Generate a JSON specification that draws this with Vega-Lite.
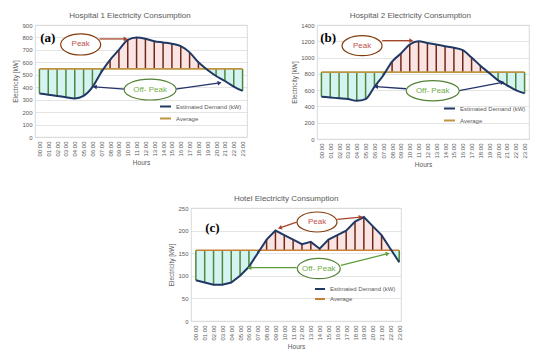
{
  "$schema": "https://vega.github.io/schema/vega-lite/v6.json",
  "background": "white",
  "padding": {"left": 12, "top": 11, "right": 0, "bottom": 0},
  "config": {
    "font": "Liberation Sans",
    "view": {"stroke": "#cfcfcf", "strokeWidth": 0.8},
    "axis": {"labelColor": "#595959", "titleColor": "#595959", "labelFontSize": 6, "titleFontSize": 6.5, "titleFontWeight": "normal", "ticks": false, "domain": false, "gridColor": "#d9d9d9", "gridWidth": 0.7, "labelPadding": 3, "titlePadding": 3, "labelOverlap": false, "labelFlush": false},
    "axisX": {"grid": false, "labelAngle": -90, "labelPadding": 4},
    "title": {"fontSize": 8, "fontWeight": "normal", "color": "#595959"},
    "legend": {"labelFontSize": 6, "labelColor": "#595959", "symbolType": "stroke", "symbolStrokeWidth": 2, "symbolSize": 120, "rowPadding": 1, "labelLimit": 200}
  },
  "datasets": {
    "h1": [
      {"h": 0, "kw": 350}, {"h": 1, "kw": 340}, {"h": 2, "kw": 330}, {"h": 3, "kw": 320}, {"h": 4, "kw": 310}, {"h": 5, "kw": 330},
      {"h": 6, "kw": 400}, {"h": 7, "kw": 520}, {"h": 8, "kw": 620}, {"h": 9, "kw": 700}, {"h": 10, "kw": 780}, {"h": 11, "kw": 800},
      {"h": 12, "kw": 790}, {"h": 13, "kw": 770}, {"h": 14, "kw": 760}, {"h": 15, "kw": 750}, {"h": 16, "kw": 730}, {"h": 17, "kw": 680},
      {"h": 18, "kw": 600}, {"h": 19, "kw": 540}, {"h": 20, "kw": 490}, {"h": 21, "kw": 450}, {"h": 22, "kw": 405}, {"h": 23, "kw": 370}
    ],
    "h2": [
      {"h": 0, "kw": 520}, {"h": 1, "kw": 510}, {"h": 2, "kw": 500}, {"h": 3, "kw": 490}, {"h": 4, "kw": 470}, {"h": 5, "kw": 490},
      {"h": 6, "kw": 640}, {"h": 7, "kw": 780}, {"h": 8, "kw": 950}, {"h": 9, "kw": 1050}, {"h": 10, "kw": 1160}, {"h": 11, "kw": 1200},
      {"h": 12, "kw": 1180}, {"h": 13, "kw": 1160}, {"h": 14, "kw": 1140}, {"h": 15, "kw": 1120}, {"h": 16, "kw": 1090}, {"h": 17, "kw": 1000},
      {"h": 18, "kw": 900}, {"h": 19, "kw": 810}, {"h": 20, "kw": 720}, {"h": 21, "kw": 660}, {"h": 22, "kw": 600}, {"h": 23, "kw": 560}
    ],
    "hotel": [
      {"h": 0, "kw": 90}, {"h": 1, "kw": 85}, {"h": 2, "kw": 80}, {"h": 3, "kw": 80}, {"h": 4, "kw": 85}, {"h": 5, "kw": 100},
      {"h": 6, "kw": 120}, {"h": 7, "kw": 150}, {"h": 8, "kw": 180}, {"h": 9, "kw": 200}, {"h": 10, "kw": 190}, {"h": 11, "kw": 180},
      {"h": 12, "kw": 170}, {"h": 13, "kw": 175}, {"h": 14, "kw": 160}, {"h": 15, "kw": 180}, {"h": 16, "kw": 190}, {"h": 17, "kw": 200},
      {"h": 18, "kw": 220}, {"h": 19, "kw": 230}, {"h": 20, "kw": 210}, {"h": 21, "kw": 190}, {"h": 22, "kw": 160}, {"h": 23, "kw": 130}
    ]
  },
  "resolve": {"scale": {"color": "independent"}, "legend": {"color": "independent"}},
  "spacing": 26,
  "vconcat": [
    {
      "spacing": 43,
      "resolve": {"scale": {"color": "independent"}, "legend": {"color": "independent"}},
      "hconcat": [
        {
          "width": 212, "height": 112,
          "title": {"text": "Hospital 1 Electricity Consumption", "frame": "bounds", "offset": 2},
          "data": {"name": "h1"},
          "transform": [{"joinaggregate": [{"op": "mean", "field": "kw", "as": "avg"}]}],
          "encoding": {
            "x": {"field": "h", "type": "quantitative", "title": "Hours", "scale": {"domain": [-0.5, 23.5], "nice": false, "zero": false},
                  "axis": {"values": [0,1,2,3,4,5,6,7,8,9,10,11,12,13,14,15,16,17,18,19,20,21,22,23], "labelExpr": "(datum.value < 10 ? '0' : '') + datum.value + ':00'"}},
            "y": {"field": "kw", "type": "quantitative", "title": "Electricity [kW]", "scale": {"domain": [0, 900], "nice": false},
                  "axis": {"values": [0,100,200,300,400,500,600,700,800,900], "format": "d"}}
          },
          "layer": [
            {"mark": {"type": "area", "interpolate": "monotone", "fill": {"gradient": "linear", "x1": 0, "y1": 0, "x2": 0, "y2": 1, "stops": [{"offset": 0, "color": "#fbe4e4"}, {"offset": 0.516, "color": "#fbe4e4"}, {"offset": 0.516, "color": "#d5f3f0"}, {"offset": 1, "color": "#d5f3f0"}]}},
             "encoding": {"y2": {"field": "avg"}}},
            {"mark": {"type": "rule", "strokeWidth": 1.5},
             "encoding": {"y2": {"field": "avg"}, "color": {"condition": {"test": "datum.kw > datum.avg", "value": "#6e2a14"}, "value": "#4b8a3c"}}},
            {"mark": {"type": "line", "strokeWidth": 1.6},
             "encoding": {"y": {"field": "avg", "type": "quantitative", "title": "Electricity [kW]"}, "color": {"datum": "Average"}}},
            {"mark": {"type": "line", "strokeWidth": 2, "interpolate": "monotone"},
             "encoding": {"color": {"datum": "Estimated Demand (kW)", "scale": {"domain": ["Estimated Demand (kW)", "Average"], "range": ["#203864", "#bf9440"]},
                                    "legend": {"orient": "none", "legendX": 124, "legendY": 75, "title": null}}}},
            {"data": {"values": [{"h": 6.8, "kw": 788, "h2": 9.76, "kw2": 788, "k": "peak"}, {"h": 9.65, "kw": 385, "h2": 6.26, "kw2": 403, "k": "off"}, {"h": 15.4, "kw": 385, "h2": 20.4, "kw2": 435, "k": "off"}]},
             "mark": {"type": "rule", "strokeWidth": 1.3},
             "encoding": {"x2": {"field": "h2"}, "y2": {"field": "kw2"}, "color": {"condition": {"test": "datum.k == 'peak'", "value": "#a9442c"}, "value": "#24336a"}}},
            {"data": {"values": [{"h": 9.76, "kw": 788}]}, "mark": {"type": "point", "shape": "triangle-right", "angle": 0, "size": 22, "filled": true, "color": "#a9442c", "opacity": 1}},
            {"data": {"values": [{"h": 6.26, "kw": 403}]}, "mark": {"type": "point", "shape": "triangle-right", "angle": 184, "size": 22, "filled": true, "color": "#24336a", "opacity": 1}},
            {"data": {"values": [{"h": 20.4, "kw": 435}]}, "mark": {"type": "point", "shape": "triangle-right", "angle": -10, "size": 22, "filled": true, "color": "#24336a", "opacity": 1}},
            {"data": {"values": [{"h": 4.67, "kw": 744}]}, "mark": {"type": "point", "shape": "M -1 0 A 1 0.53 0 1 1 1 0 A 1 0.53 0 1 1 -1 0 Z", "size": 1600, "fill": "white", "stroke": "#843c0c", "strokeWidth": 1.2, "opacity": 1, "fillOpacity": 1}},
            {"data": {"values": [{"h": 4.67, "kw": 744, "t": "Peak"}]}, "mark": {"type": "text", "fontSize": 8, "color": "#c0504d"}, "encoding": {"text": {"field": "t"}}},
            {"data": {"values": [{"h": 12.53, "kw": 381}]}, "mark": {"type": "point", "shape": "M -1 0 A 1 0.4 0 1 1 1 0 A 1 0.4 0 1 1 -1 0 Z", "size": 2704, "fill": "white", "stroke": "#548235", "strokeWidth": 1.2, "opacity": 1, "fillOpacity": 1}},
            {"data": {"values": [{"h": 12.53, "kw": 381, "t": "Off- Peak"}]}, "mark": {"type": "text", "fontSize": 8, "color": "#70ad47"}, "encoding": {"text": {"field": "t"}}},
            {"data": {"values": [{"h": 0.95, "kw": 796, "t": "(a)"}]}, "mark": {"type": "text", "fontSize": 13, "font": "Liberation Serif", "fontWeight": "bold", "color": "black"}, "encoding": {"text": {"field": "t"}}}
          ]
        },
        {
          "width": 212, "height": 114,
          "title": {"text": "Hospital 2 Electricity Consumption", "frame": "bounds", "offset": 2},
          "data": {"name": "h2"},
          "transform": [{"joinaggregate": [{"op": "mean", "field": "kw", "as": "avg"}]}],
          "encoding": {
            "x": {"field": "h", "type": "quantitative", "title": "Hours", "scale": {"domain": [-0.5, 23.5], "nice": false, "zero": false},
                  "axis": {"values": [0,1,2,3,4,5,6,7,8,9,10,11,12,13,14,15,16,17,18,19,20,21,22,23], "labelExpr": "(datum.value < 10 ? '0' : '') + datum.value + ':00'"}},
            "y": {"field": "kw", "type": "quantitative", "title": "Electricity [kW]", "scale": {"domain": [0, 1400], "nice": false},
                  "axis": {"values": [0,200,400,600,800,1000,1200,1400], "format": "d"}}
          },
          "layer": [
            {"mark": {"type": "area", "interpolate": "monotone", "fill": {"gradient": "linear", "x1": 0, "y1": 0, "x2": 0, "y2": 1, "stops": [{"offset": 0, "color": "#fbe4e4"}, {"offset": 0.519, "color": "#fbe4e4"}, {"offset": 0.519, "color": "#d5f3f0"}, {"offset": 1, "color": "#d5f3f0"}]}},
             "encoding": {"y2": {"field": "avg"}}},
            {"mark": {"type": "rule", "strokeWidth": 1.5},
             "encoding": {"y2": {"field": "avg"}, "color": {"condition": {"test": "datum.kw > datum.avg", "value": "#6e2a14"}, "value": "#4b8a3c"}}},
            {"mark": {"type": "line", "strokeWidth": 1.6},
             "encoding": {"y": {"field": "avg", "type": "quantitative", "title": "Electricity [kW]"}, "color": {"datum": "Average"}}},
            {"mark": {"type": "line", "strokeWidth": 2, "interpolate": "monotone"},
             "encoding": {"color": {"datum": "Estimated Demand (kW)", "scale": {"domain": ["Estimated Demand (kW)", "Average"], "range": ["#203864", "#bf9440"]},
                                    "legend": {"orient": "none", "legendX": 126, "legendY": 77, "title": null}}}},
            {"data": {"values": [{"h": 6.88, "kw": 1208, "h2": 10.18, "kw2": 1208, "k": "peak"}, {"h": 9.6, "kw": 617, "h2": 6.17, "kw2": 643, "k": "off"}, {"h": 15.6, "kw": 593, "h2": 20.5, "kw2": 695, "k": "off"}]},
             "mark": {"type": "rule", "strokeWidth": 1.3},
             "encoding": {"x2": {"field": "h2"}, "y2": {"field": "kw2"}, "color": {"condition": {"test": "datum.k == 'peak'", "value": "#a9442c"}, "value": "#24336a"}}},
            {"data": {"values": [{"h": 10.18, "kw": 1208}]}, "mark": {"type": "point", "shape": "triangle-right", "angle": 0, "size": 22, "filled": true, "color": "#a9442c", "opacity": 1}},
            {"data": {"values": [{"h": 6.17, "kw": 643}]}, "mark": {"type": "point", "shape": "triangle-right", "angle": 184, "size": 22, "filled": true, "color": "#24336a", "opacity": 1}},
            {"data": {"values": [{"h": 20.5, "kw": 695}]}, "mark": {"type": "point", "shape": "triangle-right", "angle": -11, "size": 22, "filled": true, "color": "#24336a", "opacity": 1}},
            {"data": {"values": [{"h": 4.6, "kw": 1146}]}, "mark": {"type": "point", "shape": "M -1 0 A 1 0.5 0 1 1 1 0 A 1 0.5 0 1 1 -1 0 Z", "size": 1600, "fill": "white", "stroke": "#843c0c", "strokeWidth": 1.2, "opacity": 1, "fillOpacity": 1}},
            {"data": {"values": [{"h": 4.6, "kw": 1146, "t": "Peak"}]}, "mark": {"type": "text", "fontSize": 8, "color": "#c0504d"}, "encoding": {"text": {"field": "t"}}},
            {"data": {"values": [{"h": 12.6, "kw": 593}]}, "mark": {"type": "point", "shape": "M -1 0 A 1 0.38 0 1 1 1 0 A 1 0.38 0 1 1 -1 0 Z", "size": 2809, "fill": "white", "stroke": "#548235", "strokeWidth": 1.2, "opacity": 1, "fillOpacity": 1}},
            {"data": {"values": [{"h": 12.6, "kw": 593, "t": "Off- Peak"}]}, "mark": {"type": "text", "fontSize": 8, "color": "#70ad47"}, "encoding": {"text": {"field": "t"}}},
            {"data": {"values": [{"h": 0.76, "kw": 1236, "t": "(b)"}]}, "mark": {"type": "text", "fontSize": 13, "font": "Liberation Serif", "fontWeight": "bold", "color": "black"}, "encoding": {"text": {"field": "t"}}}
          ]
        }
      ]
    },
    {
      "spacing": 0,
      "resolve": {"scale": {"color": "independent"}, "legend": {"color": "independent"}},
      "hconcat": [
        {"width": 133, "height": 10, "view": {"stroke": null}, "data": {"values": [{}]}, "mark": {"type": "point", "opacity": 0}, "encoding": {}},
        {
          "width": 210, "height": 113,
          "title": {"text": "Hotel Electricity Consumption", "frame": "bounds", "offset": 2},
          "data": {"name": "hotel"},
          "transform": [{"joinaggregate": [{"op": "mean", "field": "kw", "as": "avg"}]}],
          "encoding": {
            "x": {"field": "h", "type": "quantitative", "title": "Hours", "scale": {"domain": [-0.55, 23.2], "nice": false, "zero": false},
                  "axis": {"values": [0,1,2,3,4,5,6,7,8,9,10,11,12,13,14,15,16,17,18,19,20,21,22,23], "labelExpr": "(datum.value < 10 ? '0' : '') + datum.value + ':00'"}},
            "y": {"field": "kw", "type": "quantitative", "title": "Electricity [kW]", "scale": {"domain": [0, 250], "nice": false},
                  "axis": {"values": [0,50,100,150,200,250], "format": "d"}}
          },
          "layer": [
            {"mark": {"type": "area", "fill": {"gradient": "linear", "x1": 0, "y1": 0, "x2": 0, "y2": 1, "stops": [{"offset": 0, "color": "#fbe4e4"}, {"offset": 0.49, "color": "#fbe4e4"}, {"offset": 0.49, "color": "#d5f3f0"}, {"offset": 1, "color": "#d5f3f0"}]}},
             "encoding": {"y2": {"field": "avg"}}},
            {"mark": {"type": "rule", "strokeWidth": 1.5},
             "encoding": {"y2": {"field": "avg"}, "color": {"condition": {"test": "datum.kw > datum.avg", "value": "#6e2a14"}, "value": "#4b8a3c"}}},
            {"mark": {"type": "line", "strokeWidth": 1.6},
             "encoding": {"y": {"field": "avg", "type": "quantitative", "title": "Electricity [kW]"}, "color": {"datum": "Average"}}},
            {"mark": {"type": "line", "strokeWidth": 2},
             "encoding": {"color": {"datum": "Estimated Demand (kW)", "scale": {"domain": ["Estimated Demand (kW)", "Average"], "range": ["#203864", "#c87f33"]},
                                    "legend": {"orient": "none", "legendX": 123, "legendY": 75, "title": null, "rowPadding": 0, "symbolSize": 100}}}},
            {"data": {"values": [{"h": 11.4, "kw": 219, "h2": 9.5, "kw2": 206, "k": "peak"}, {"h": 16.0, "kw": 225, "h2": 18.65, "kw2": 230, "k": "peak"}, {"h": 11.4, "kw": 118, "h2": 6.06, "kw2": 118, "k": "off"}, {"h": 16.4, "kw": 123, "h2": 21.7, "kw2": 149, "k": "off"}]},
             "mark": {"type": "rule", "strokeWidth": 1.3},
             "encoding": {"x2": {"field": "h2"}, "y2": {"field": "kw2"}, "color": {"condition": {"test": "datum.k == 'peak'", "value": "#a9442c"}, "value": "#5e9e3c"}}},
            {"data": {"values": [{"h": 9.5, "kw": 206}]}, "mark": {"type": "point", "shape": "triangle-right", "angle": 160, "size": 22, "filled": true, "color": "#a9442c", "opacity": 1}},
            {"data": {"values": [{"h": 18.65, "kw": 230}]}, "mark": {"type": "point", "shape": "triangle-right", "angle": -6, "size": 22, "filled": true, "color": "#a9442c", "opacity": 1}},
            {"data": {"values": [{"h": 6.06, "kw": 118}]}, "mark": {"type": "point", "shape": "triangle-right", "angle": 180, "size": 22, "filled": true, "color": "#5e9e3c", "opacity": 1}},
            {"data": {"values": [{"h": 21.7, "kw": 149}]}, "mark": {"type": "point", "shape": "triangle-right", "angle": -14, "size": 22, "filled": true, "color": "#5e9e3c", "opacity": 1}},
            {"data": {"values": [{"h": 13.7, "kw": 219}]}, "mark": {"type": "point", "shape": "M -1 0 A 1 0.5 0 1 1 1 0 A 1 0.5 0 1 1 -1 0 Z", "size": 1600, "fill": "white", "stroke": "#843c0c", "strokeWidth": 1.2, "opacity": 1, "fillOpacity": 1}},
            {"data": {"values": [{"h": 13.7, "kw": 219, "t": "Peak"}]}, "mark": {"type": "text", "fontSize": 8, "color": "#c0504d"}, "encoding": {"text": {"field": "t"}}},
            {"data": {"values": [{"h": 13.9, "kw": 116}]}, "mark": {"type": "point", "shape": "M -1 0 A 1 0.47 0 1 1 1 0 A 1 0.47 0 1 1 -1 0 Z", "size": 1849, "fill": "white", "stroke": "#548235", "strokeWidth": 1.2, "opacity": 1, "fillOpacity": 1}},
            {"data": {"values": [{"h": 13.9, "kw": 116, "t": "Off- Peak"}]}, "mark": {"type": "text", "fontSize": 8, "color": "#70ad47"}, "encoding": {"text": {"field": "t"}}},
            {"data": {"values": [{"h": 1.87, "kw": 205, "t": "(c)"}]}, "mark": {"type": "text", "fontSize": 13, "font": "Liberation Serif", "fontWeight": "bold", "color": "black"}, "encoding": {"text": {"field": "t"}}}
          ]
        }
      ]
    }
  ]
}
